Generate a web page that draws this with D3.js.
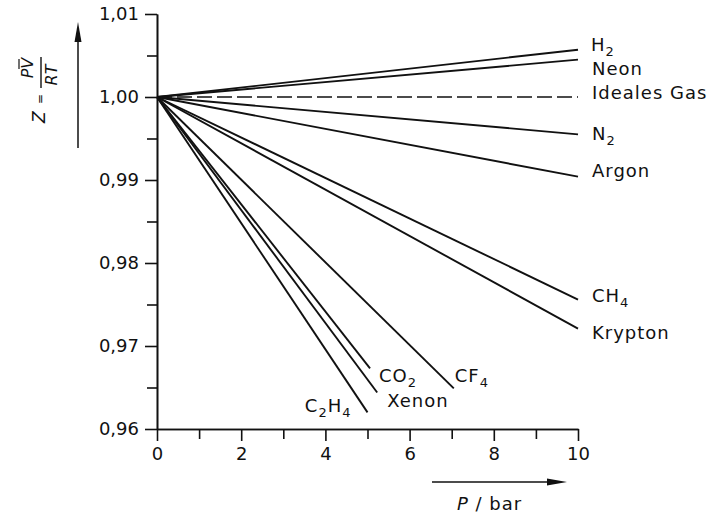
<!DOCTYPE html>
<html>
<head>
<meta charset="utf-8">
<script src="https://cdn.jsdelivr.net/npm/d3@7"></script>
<style>
  body { margin: 0; background: #fff; }
  text { font-family: "DejaVu Sans", sans-serif; fill: #111; }
</style>
</head>
<body>
<div id="chart"></div>
<script>
// data: Z = PV/RT vs P for several gases (straight lines from Z=1 at P=0)
const gases = ["H2", "Neon", "Ideales Gas", "N2", "Argon", "CH4", "Krypton", "CO2", "CF4", "Xenon", "C2H4"];
const pEnd  = [10, 10, 10, 10, 10, 10, 10, 5.06, 7.05, 5.23, 5.0];
const zEnd  = [1.0057, 1.0045, 1.0, 0.9955, 0.9904, 0.9756, 0.9721, 0.9673, 0.9649, 0.9644, 0.9620];
const xTicks = [0, 2, 4, 6, 8, 10];
const xMinor = [1, 3, 5, 7, 9];
const yTicks = [0.96, 0.97, 0.98, 0.99, 1.00, 1.01];
const yMinor = [0.965, 0.975, 0.985, 0.995, 1.005];

// label placement (pixels relative to the end of each line)
const labelPos = {
  "H2": [13, 1], "Neon": [14, 15], "Ideales Gas": [14, 2], "N2": [14, 6],
  "Argon": [14, 0], "CH4": [14, 2], "Krypton": [14, 10], "CO2": [9, 14],
  "CF4": [1, -6], "Xenon": [10, 15], "C2H4": [-16, 0]
};

const W = 710, H = 515;
const svg = d3.select("#chart").append("svg")
    .attr("width", W)
    .attr("height", H);

const x = d3.scaleLinear().domain([0, 10]).range([157, 578]);
const y = d3.scaleLinear().domain([0.96, 1.01]).range([429, 14]);

const fmt = d3.formatLocale({decimal: ",", thousands: ".", grouping: [3], currency: ["", "€"]}).format(".2f");

// axes
svg.append("g").attr("transform", "translate(0," + y(0.96) + ")")
    .call(d3.axisBottom(x).tickValues(xTicks).tickSize(12).tickSizeOuter(0).tickPadding(6));
svg.append("g").attr("transform", "translate(0," + y(0.96) + ")")
    .call(d3.axisBottom(x).tickValues(xMinor).tickSize(10).tickSizeOuter(0).tickFormat(""));
svg.append("g").attr("transform", "translate(" + x(0) + ",0)")
    .call(d3.axisLeft(y).tickValues(yTicks).tickSize(12).tickSizeOuter(0).tickPadding(6).tickFormat(fmt));
svg.append("g").attr("transform", "translate(" + x(0) + ",0)")
    .call(d3.axisLeft(y).tickValues(yMinor).tickSize(10).tickSizeOuter(0).tickFormat(""));

svg.selectAll(".domain").attr("stroke", "#111").attr("stroke-width", 1.6);
svg.selectAll(".tick line").attr("stroke", "#111").attr("stroke-width", 1.6);
svg.selectAll(".tick text").filter(function() { return this.textContent == ""; }).remove();
svg.selectAll(".tick text")
    .style("font-family", "DejaVu Sans, sans-serif")
    .style("font-size", "18px")
    .attr("fill", "#111");

// gas lines
const line = d3.line().x(d => x(d[0])).y(d => y(d[1]));
gases.forEach(function(g, i) {
  svg.append("path")
      .attr("d", line([[0, 1.0], [pEnd[i], zEnd[i]]]))
      .attr("fill", "none")
      .attr("stroke", "#111")
      .attr("stroke-width", g == "Ideales Gas" ? 1.5 : 1.9)
      .attr("stroke-dasharray", g == "Ideales Gas" ? "15,5" : null);

  const off = labelPos[g];
  const t = svg.append("text")
      .attr("x", x(pEnd[i]) + off[0])
      .attr("y", y(zEnd[i]) + off[1])
      .attr("text-anchor", off[0] < 0 ? "end" : "start")
      .style("font-size", "18px")
      .style("letter-spacing", "1px");
  // digits become subscripts
  let shift = 0;
  g.split(/(\d)/).filter(s => s != "").forEach(function(part) {
    if (/\d/.test(part)) {
      t.append("tspan").attr("dy", 5 - shift).style("font-size", "13px").text(part);
      shift = 5;
    } else {
      t.append("tspan").attr("dy", -shift).text(part);
      shift = 0;
    }
  });
});

// y axis title: Z = PV/RT, rotated
const yt = svg.append("g").attr("transform", "rotate(-90)");
yt.append("text").attr("x", -123).attr("y", 45)
    .style("font-size", "17px").style("font-style", "italic").text("Z");
yt.append("text").attr("x", -104).attr("y", 44)
    .style("font-size", "12px").text("=");
yt.append("text").attr("x", -68).attr("y", 33).attr("text-anchor", "middle")
    .style("font-size", "16px").style("font-style", "italic").text("PV");
yt.append("line").attr("x1", -69).attr("x2", -59).attr("y1", 19).attr("y2", 19)
    .attr("stroke", "#111").attr("stroke-width", 1.2);
yt.append("line").attr("x1", -88).attr("x2", -57).attr("y1", 41).attr("y2", 41)
    .attr("stroke", "#111").attr("stroke-width", 1.4);
yt.append("text").attr("x", -75).attr("y", 57).attr("text-anchor", "middle")
    .style("font-size", "16px").style("font-style", "italic").text("RT");

// arrows
svg.append("line").attr("x1", 78).attr("x2", 78).attr("y1", 148).attr("y2", 38)
    .attr("stroke", "#111").attr("stroke-width", 1.5);
svg.append("path").attr("d", "M78,22 L74.5,42 L81.5,42 Z").attr("fill", "#111");
svg.append("line").attr("x1", 432).attr("x2", 552).attr("y1", 482).attr("y2", 482)
    .attr("stroke", "#111").attr("stroke-width", 1.5);
svg.append("path").attr("d", "M567,482 L547,478.5 L547,485.5 Z").attr("fill", "#111");

// x axis title
const xt = svg.append("text").attr("x", 457).attr("y", 510)
    .style("font-size", "18px").style("letter-spacing", "1px");
xt.append("tspan").style("font-style", "italic").text("P");
xt.append("tspan").text(" / bar");
</script>
</body>
</html>
